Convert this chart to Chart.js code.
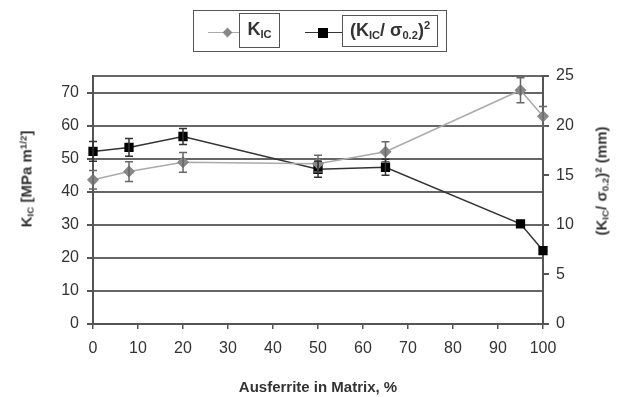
<!DOCTYPE html>
<html>
<head>
<meta charset="utf-8">
<script src="https://cdn.jsdelivr.net/npm/chart.js@4/dist/chart.umd.min.js"></script>
<style>
  body { margin: 0; background: #fff; }
  #wrap { position: relative; width: 618px; height: 397px; font-family: "Liberation Sans", Arial, sans-serif; color: #333; }
  #c { position: absolute; left: 0; top: 0; }
  .box { position: absolute; border: 1.5px solid #555; box-sizing: border-box; }
  .lab { font-weight: bold; font-size: 18px; white-space: nowrap; text-align: center; }
  .lab span { display: inline-block; }
  .lab sub { font-size: 0.62em; vertical-align: -0.3em; line-height: 0; }
  .lab sup { font-size: 0.62em; vertical-align: 0.6em; line-height: 0; }
  .ytitle { position: absolute; font-weight: bold; font-size: 15px; white-space: nowrap; transform: translate(-50%, -50%) rotate(-90deg); }
  .ytitle sub { font-size: 0.65em; vertical-align: -0.25em; line-height: 0; }
  .ytitle sup { font-size: 0.65em; vertical-align: 0.55em; line-height: 0; }
  .ln { position: absolute; height: 0; }
</style>
</head>
<body>
<div id="wrap">
  <canvas id="c" width="618" height="397"></canvas>

  <!-- leyenda -->
  <div class="box" style="left:193px;top:10px;width:254px;height:42px;"></div>
  <div class="ln" style="left:208px;top:32px;width:31px;border-top:1.5px solid #aaa;"></div>
  <div style="position:absolute;left:224px;top:29px;width:7px;height:7px;background:#888;transform:rotate(45deg);"></div>
  <div class="box lab" style="left:239px;top:13px;width:41px;height:35px;line-height:31px;"><span>K<sub>IC</sub></span></div>

  <div class="ln" style="left:305px;top:32px;width:37px;border-top:1.5px solid #333;"></div>
  <div style="position:absolute;left:318px;top:28px;width:10px;height:10px;background:#000;"></div>
  <div class="box lab" style="left:342px;top:15px;width:96px;height:32px;line-height:29px;"><span>(K<sub>IC</sub>/&nbsp;σ<sub>0.2</sub>)<sup>2</sup></span></div>

  <!-- titulos de ejes Y -->
  <div class="ytitle" style="left:26px;top:179px;">K<sub>IC</sub> [MPa m<sup>1/2</sup>]</div>
  <div class="ytitle" style="left:601px;top:181px;">(K<sub>IC</sub>/ σ<sub>0.2</sub>)<sup>2</sup> (mm)</div>
</div>

<script>
// Datos
const ausferrite = [0, 8, 20, 50, 65, 95, 100];
const kicValues = [43.6, 46.1, 48.9, 48.5, 52.1, 70.7, 62.8];
const kicErrors = [2.8, 3, 3, 2.5, 3, 3.8, 3];
const ratioValues = [17.4, 17.8, 18.9, 15.6, 15.8, 10.1, 7.4];
const ratioErrors = [1, 0.9, 0.8, 0.8, 0.8, 0, 0];

const xTicks = [0, 10, 20, 30, 40, 50, 60, 70, 80, 90, 100];

const FONT = "'Liberation Sans', Arial, sans-serif";

// Plugin sencillo para barras de error
const errorBars = {
  id: "errorBars",
  afterDatasetsDraw(chart) {
    const ctx = chart.ctx;
    chart.data.datasets.forEach((ds, i) => {
      const meta = chart.getDatasetMeta(i);
      const yScale = chart.scales[ds.yAxisID];
      ctx.save();
      ctx.strokeStyle = ds.errorColor;
      ctx.lineWidth = 1.5;
      meta.data.forEach((pt, j) => {
        const e = ds.errors[j];
        if (!e) return;
        const v = ds.data[j].y;
        const yTop = yScale.getPixelForValue(v + e);
        const yBot = yScale.getPixelForValue(v - e);
        ctx.beginPath();
        ctx.moveTo(pt.x, yTop); ctx.lineTo(pt.x, yBot);
        ctx.moveTo(pt.x - 4, yTop); ctx.lineTo(pt.x + 4, yTop);
        ctx.moveTo(pt.x - 4, yBot); ctx.lineTo(pt.x + 4, yBot);
        ctx.stroke();
      });
      ctx.restore();
    });
  }
};

new Chart(document.getElementById("c"), {
  type: "line",
  data: {
    datasets: [
      {
        label: "KIC",
        data: ausferrite.map((x, i) => ({ x: x, y: kicValues[i] })),
        errors: kicErrors,
        errorColor: "#666",
        yAxisID: "y",
        borderColor: "#aaa",
        borderWidth: 1.5,
        pointStyle: "rectRot",
        pointRadius: 5,
        pointBackgroundColor: "#888",
        pointBorderColor: "#888",
        clip: false,
        tension: 0
      },
      {
        label: "ratio",
        data: ausferrite.map((x, i) => ({ x: x, y: ratioValues[i] })),
        errors: ratioErrors,
        errorColor: "#333",
        yAxisID: "y2",
        borderColor: "#333",
        borderWidth: 1.5,
        pointStyle: "rect",
        pointRadius: 5.5,
        pointBackgroundColor: "#000",
        pointBorderColor: "#000",
        clip: false,
        tension: 0
      }
    ]
  },
  options: {
    responsive: false,
    animation: false,
    layout: { padding: { top: 76, left: 0, right: 0, bottom: 0 } },
    plugins: { legend: { display: false }, tooltip: { enabled: false } },
    scales: {
      x: {
        type: "linear",
        min: 0,
        max: 100,
        afterBuildTicks: (s) => { s.ticks = xTicks.map(v => ({ value: v })); },
        afterFit: (s) => { s.height = 73; },
        grid: { drawOnChartArea: false, tickLength: 5, tickColor: "#555", lineWidth: 1.5 },
        border: { color: "#555", width: 2 },
        ticks: { padding: 10, font: { family: FONT, size: 16 }, color: "#333", maxRotation: 0 },
        title: { display: true, text: "Ausferrite in Matrix, %", font: { family: FONT, size: 15, weight: "bold" }, color: "#333", padding: { top: 0, bottom: 0 } }
      },
      y: {
        position: "left",
        min: 0,
        max: 75,
        ticks: { stepSize: 10, includeBounds: false, padding: 8, font: { family: FONT, size: 16 }, color: "#333" },
        afterFit: (s) => { s.width = 93; },
        grid: { color: "#666", lineWidth: 2, tickLength: 6, tickColor: "#555" },
        border: { color: "#555", width: 2 }
      },
      y2: {
        position: "right",
        min: 0,
        max: 25,
        ticks: { stepSize: 5, padding: 7, font: { family: FONT, size: 16 }, color: "#333" },
        afterFit: (s) => { s.width = 75; },
        grid: {
          // solo la linea de 25 se ve en el area: hace de borde superior
          color: (c) => (c.tick && c.tick.value === 25 ? "#666" : "rgba(0,0,0,0)"),
          lineWidth: 2,
          tickLength: 6,
          tickColor: "#555"
        },
        border: { color: "#555", width: 2 }
      }
    }
  },
  plugins: [errorBars]
});
</script>
</body>
</html>
